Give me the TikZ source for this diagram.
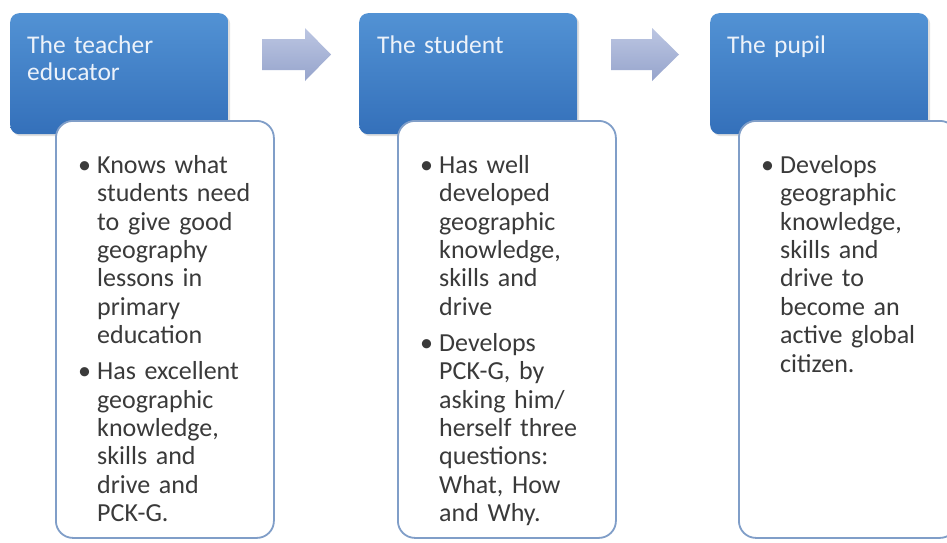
\documentclass[tikz,border=0pt]{standalone}
\usepackage{fontspec}
\setmainfont{Carlito}
\usetikzlibrary{shadows}
\definecolor{hdrtop}{RGB}{82,146,212}
\definecolor{hdrbot}{RGB}{52,112,186}
\definecolor{hdrtext}{RGB}{236,242,250}
\definecolor{bodyline}{RGB}{128,158,200}
\definecolor{bodytext}{RGB}{58,58,58}
\definecolor{arrtop}{RGB}{188,198,226}
\definecolor{arrbot}{RGB}{150,164,204}
\newcommand{\bulletline}{\noindent\hangindent=19pt\hangafter=1\makebox[19pt][l]{•}}
\newcommand{\itemgap}{\par\vspace{7.6pt}}
\tikzset{
  hdr/.style={draw=none, rounded corners=9pt, top color=hdrtop, bottom color=hdrbot,
    minimum width=218pt, minimum height=121pt, anchor=north west, inner sep=0pt,
    drop shadow={opacity=0.25, shadow xshift=2pt, shadow yshift=-2pt}},
  bodybox/.style={draw=bodyline, line width=1.8pt, fill=white, rounded corners=17pt,
    minimum width=218pt, minimum height=417pt, anchor=north west, inner sep=0pt},
  hdrtxt/.style={anchor=north west, inner sep=0pt, text width=200pt,
    font=\fontsize{25.5}{27}\selectfont, text=hdrtext},
  bodytxt/.style={anchor=north west, inner sep=0pt, text width=200pt,
    font=\fontsize{26}{28.4}\selectfont, text=bodytext},
  flowarrow/.style={top color=arrtop, bottom color=arrbot, draw=none}
}
\begin{document}
\begin{tikzpicture}[x=1pt, y=-1pt]
\clip (0,0) rectangle (947,542);
\fill[white] (0,0) rectangle (947,542);
% arrows
\coordinate (a1) at (262,54.5);
\coordinate (a2) at (611,54.5);
\path[flowarrow] (a1) ++(0,-15.5) -- ++(43,0) -- ++(0,-11) -- ++(26,26.5) -- ++(-26,26.5) -- ++(0,-11) -- ++(-43,0) -- cycle;
\path[flowarrow] (a2) ++(0,-15.5) -- ++(41,0) -- ++(0,-11) -- ++(27,26.5) -- ++(-27,26.5) -- ++(0,-11) -- ++(-41,0) -- cycle;
% headers
\node[hdr] (h1) at (10,13) {};
\node[hdr] (h2) at (359,13) {};
\node[hdr] (h3) at (710,13) {};
\node[hdrtxt] (h1t) at (27,33) {\rule{0pt}{20pt}The teacher\newline educator};
\node[hdrtxt] (h2t) at (377,33) {\rule{0pt}{20pt}The student};
\node[hdrtxt] (h3t) at (727,33) {\rule{0pt}{20pt}The pupil};
% bodies
\node[bodybox] (b1) at (55,120) {};
\node[bodybox] (b2) at (397,120) {};
\node[bodybox] (b3) at (738,120) {};
\node[bodytxt] (b1t) at (78,152) {\bulletline\rule{0pt}{21pt}Knows what\newline students need\newline to give good\newline geography\newline lessons in\newline primary\newline education\itemgap
\bulletline Has excellent\newline geographic\newline knowledge,\newline skills and\newline drive and\newline PCK-G.\par};
\node[bodytxt] (b2t) at (420,152) {\bulletline\rule{0pt}{21pt}Has well\newline developed\newline geographic\newline knowledge,\newline skills and\newline drive\itemgap
\bulletline Develops\newline PCK-G, by\newline asking him/\newline herself three\newline questions:\newline What, How\newline and Why.\par};
\node[bodytxt] (b3t) at (761,152) {\bulletline\rule{0pt}{21pt}Develops\newline geographic\newline knowledge,\newline skills and\newline drive to\newline become an\newline active global\newline citizen.\par};
\end{tikzpicture}
\end{document}
